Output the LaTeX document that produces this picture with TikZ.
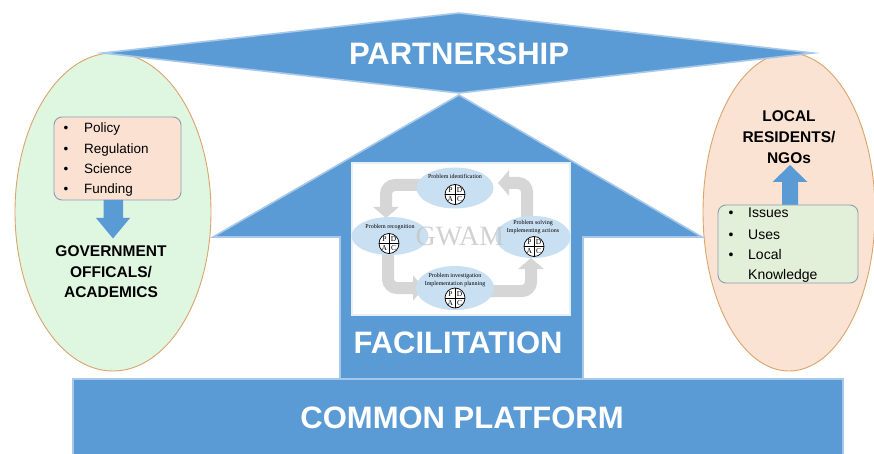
\documentclass[tikz,border=0pt]{standalone}
\usepackage{fontspec}
\setmainfont{Liberation Sans}
\newfontfamily\timesf{Liberation Serif}
\usetikzlibrary{arrows.meta,shapes.geometric}
\definecolor{blu}{HTML}{5B9BD5}
\definecolor{bluedge}{HTML}{A8C8EA}
\definecolor{lgreen}{HTML}{DFF6E1}
\definecolor{lpeach}{HTML}{FBE3D3}
\definecolor{tanedge}{HTML}{DBA46C}
\definecolor{boxedge}{HTML}{8C9DB2}
\definecolor{boxgreen}{HTML}{E2F0D9}
\definecolor{boxpeach}{HTML}{FBE1D2}
\definecolor{cyc}{HTML}{C9DFF2}
\definecolor{cycarrow}{HTML}{D6D6D6}
\tikzset{
  bigshape/.style={fill=blu, draw=bluedge, line width=1.6pt, line join=miter},
  bigtxt/.style={text=white, font=\bfseries\fontsize{31}{31}\selectfont, inner sep=0pt},
  oval/.style={ellipse, draw=tanedge, line width=0.9pt, inner sep=0pt},
  listbox/.style={draw=boxedge, line width=0.9pt, rounded corners=8pt, inner sep=0pt},
  listtxt/.style={anchor=base west, inner sep=0pt, font=\fontsize{13.5}{13.5}\selectfont},
  boldlbl/.style={anchor=base, inner sep=0pt, font=\bfseries\fontsize{15.5}{15.5}\selectfont},
  cycell/.style={ellipse, fill=cyc, inner sep=0pt},
  cyctxt/.style={inner sep=0pt, font=\timesf\fontsize{6}{6}\selectfont},
  cycarr/.style={draw=cycarrow, line width=12pt, rounded corners=9pt,
    -{Triangle[length=11pt 0 0,width=25pt 0 0]}},
  pdacl/.style={inner sep=0pt, font=\timesf\fontsize{7.5}{7.5}\selectfont},
  pdac/.pic={
    \draw[fill=white, line width=0.7pt] (0,0) circle (10pt);
    \draw[line width=0.6pt] (-10,0) -- (10,0) (0,-10) -- (0,10);
    \node[pdacl] (-p) at (-4.6,-4.3) {P};
    \node[pdacl] (-d) at (4.6,-4.3) {D};
    \node[pdacl] (-a) at (-4.6,4.6) {A};
    \node[pdacl] (-c) at (4.6,4.6) {C};
  }
}
\begin{document}
\begin{tikzpicture}[x=1pt,y=-1pt]
\useasboundingbox (0,0) rectangle (874,454);
\fill[white] (0,0) rectangle (874,454);

% side ovals
\node[oval, fill=lgreen, minimum width=196pt, minimum height=318pt] (govoval) at (113,212) {};
\node[oval, fill=lpeach, minimum width=172pt, minimum height=318pt] (locoval) at (789,212) {};

% common platform
\draw[bigshape] (73,379) rectangle (843,462);
\node[bigtxt] (platform) at (462,418) {COMMON PLATFORM};

% big up arrow (facilitation)
\draw[bigshape] (459,95) -- (702,237) -- (583,237) -- (583,379) -- (340,379)
  -- (340,237) -- (213,237) -- cycle;
\draw[fill=white, draw=white!85!blu, line width=1.5pt] (352,163) rectangle (570,315);
\node[bigtxt] (facil) at (458,343) {FACILITATION};

% partnership diamond
\draw[bigshape] (103,53) -- (459,13) -- (813,53) -- (459,93) -- cycle;
\node[bigtxt] (partner) at (459,54) {PARTNERSHIP};

% GWAM cycle
\draw[cycarr] (430,185) -| (386,218);
\draw[cycarr] (388,245) |- (424,288);
\draw[cycarr] (480,291) -| (531,258);
\draw[cycarr] (527,232) |- (498,183);

\node[cycell, minimum width=77pt, minimum height=41pt] (ident) at (455,188) {};
\node[cycell, minimum width=77pt, minimum height=38pt] (recog) at (390,236) {};
\node[cycell, minimum width=75pt, minimum height=42pt] (solve) at (533,237) {};
\node[cycell, minimum width=78pt, minimum height=44pt] (invest) at (455,288) {};

\node[cyctxt] (identt) at (455,176) {Problem identification};
\node[cyctxt] (recogt) at (390,227.5) {Problem recognition};
\node[cyctxt] (solvet1) at (533,223.5) {Problem solving};
\node[cyctxt] (solvet2) at (533,231) {Implementing actions};
\node[cyctxt] (investt1) at (455,276.5) {Problem investigation};
\node[cyctxt] (investt2) at (455,284) {Implementation planning};

\pic (pd1) at (455,194.5) {pdac};
\pic (pd2) at (389,243.5) {pdac};
\pic (pd3) at (534,246.5) {pdac};
\pic (pd4) at (455,298) {pdac};

\node[inner sep=0pt, text=gray!45, text opacity=0.8,
  font=\timesf\fontsize{28}{28}\selectfont] (gwam) at (460,236) {GWAM};

% left list box
\node[listbox, fill=boxpeach, minimum width=127pt, minimum height=83pt] (govbox) at (117.5,158.5) {};
\node[listtxt] (gb1) at (63.5,133) {\textbullet};
\node[listtxt] (gi1) at (84,133) {Policy};
\node[listtxt] (gb2) at (63.5,153.5) {\textbullet};
\node[listtxt] (gi2) at (84,153.5) {Regulation};
\node[listtxt] (gb3) at (63.5,174) {\textbullet};
\node[listtxt] (gi3) at (84,174) {Science};
\node[listtxt] (gb4) at (63.5,194) {\textbullet};
\node[listtxt] (gi4) at (84,194) {Funding};

% left down arrow
\fill[blu] (103.5,200) -- (123,200) -- (123,218) -- (130,218) -- (113,238.5)
  -- (96,218) -- (103.5,218) -- cycle;

\node[boldlbl] (gov1) at (111,256) {GOVERNMENT};
\node[boldlbl] (gov2) at (111,277) {OFFICALS/};
\node[boldlbl] (gov3) at (111,297) {ACADEMICS};

% right labels
\node[boldlbl] (loc1) at (789,122) {LOCAL};
\node[boldlbl] (loc2) at (789,143) {RESIDENTS/};
\node[boldlbl] (loc3) at (789,164) {NGOs};

% right up arrow
\fill[blu] (782,206) -- (798,206) -- (798,182) -- (807.5,182) -- (790,165)
  -- (772.5,182) -- (782,182) -- cycle;

% right list box
\node[listbox, fill=boxgreen, minimum width=140pt, minimum height=78pt] (locbox) at (788,244) {};
\node[listtxt, font=\fontsize{14}{14}\selectfont] (lb1) at (728.5,218) {\textbullet};
\node[listtxt, font=\fontsize{14}{14}\selectfont] (li1) at (748,218) {Issues};
\node[listtxt, font=\fontsize{14}{14}\selectfont] (lb2) at (728.5,239) {\textbullet};
\node[listtxt, font=\fontsize{14}{14}\selectfont] (li2) at (748,239) {Uses};
\node[listtxt, font=\fontsize{14}{14}\selectfont] (lb3) at (728.5,259.5) {\textbullet};
\node[listtxt, font=\fontsize{14}{14}\selectfont] (li3) at (748,259.5) {Local};
\node[listtxt, font=\fontsize{14}{14}\selectfont] (li4) at (748,279.5) {Knowledge};
\end{tikzpicture}
\end{document}
